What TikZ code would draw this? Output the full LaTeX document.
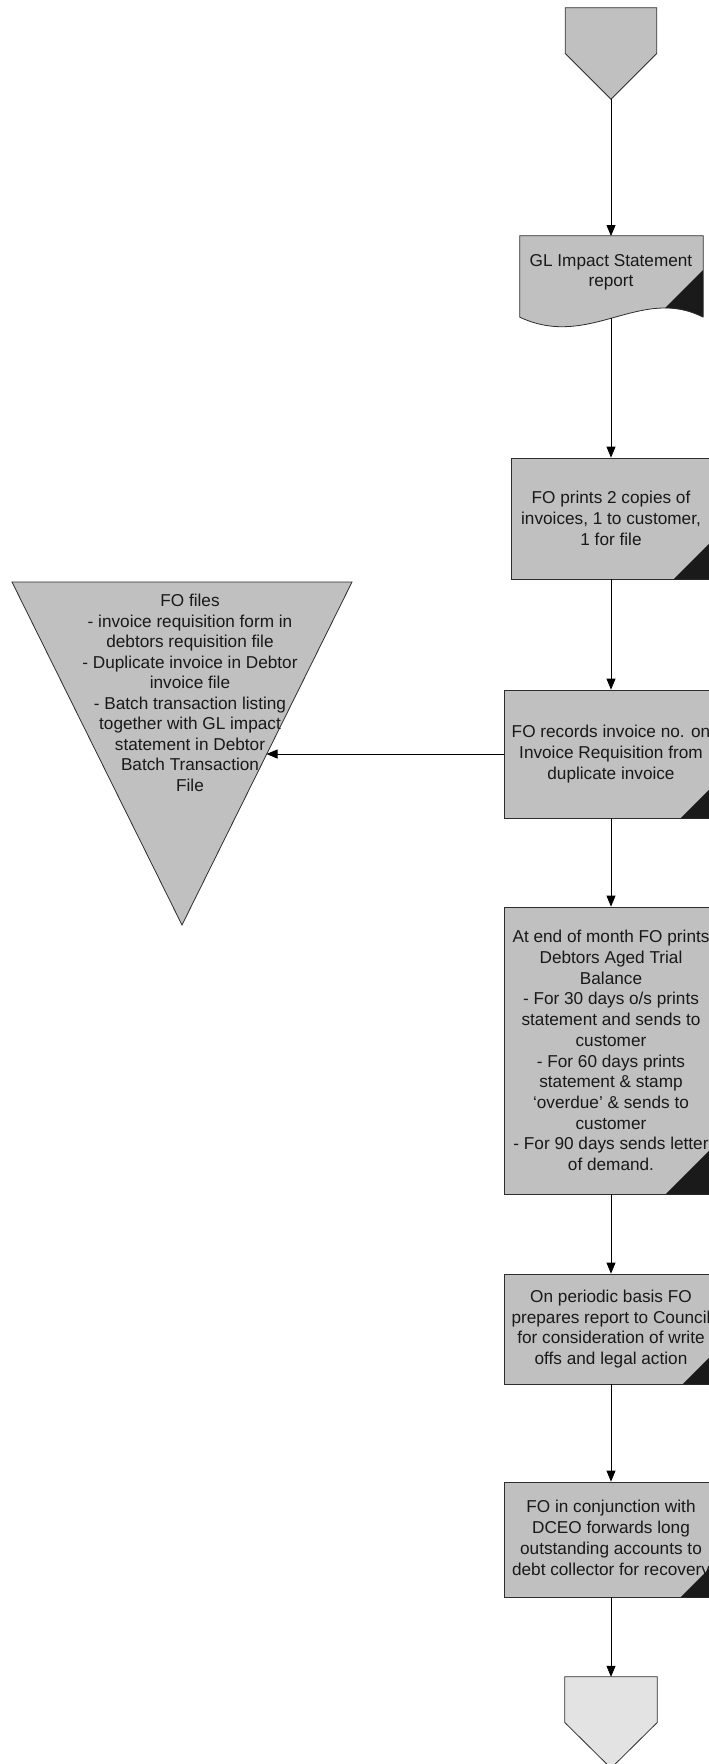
\documentclass[tikz,border=0pt]{standalone}
\usepackage{fontspec}
\setmainfont{Liberation Sans}
\usetikzlibrary{arrows.meta}
\definecolor{boxgray}{RGB}{192,192,192}
\definecolor{endgray}{RGB}{227,227,227}
\definecolor{cornerblack}{RGB}{26,26,26}
\definecolor{edgegray}{RGB}{45,45,45}
\definecolor{textc}{RGB}{25,25,25}
\tikzset{
  proc/.style={draw=edgegray, fill=boxgray, line width=0.8pt, align=center,
    inner sep=1pt, text=textc, font=\fontsize{17.2}{20.7}\selectfont},
  ghost/.style={draw=none, fill=none, inner sep=0pt},
  shapeline/.style={draw=edgegray, line width=0.8pt},
  txt/.style={align=center, inner sep=0pt, text=textc, font=\fontsize{17.2}{20.5}\selectfont},
  conn/.style={draw=black, line width=0.8pt, -{Triangle[length=11pt,width=9pt]}},
  corner/.style={fill=cornerblack}
}
\begin{document}
\begin{tikzpicture}[x=1pt,y=-1pt]
\useasboundingbox (0,0) rectangle (709,1764);
\clip (0,0) rectangle (709,1764);

% top off-page connector
\node[ghost, minimum width=91pt, minimum height=91pt] (start) at (611,53.5) {};
\filldraw[shapeline, fill=boxgray] (start.north west) -- (start.north east) -- (start.east)
  -- (start.south) -- (start.west) -- cycle;

% GL document
\node[ghost, minimum width=183pt, minimum height=81pt] (gl) at (611.5,276.5) {};
\path[fill=boxgray] (gl.south east) -- (gl.north east) -- (gl.north west) -- (gl.south west)
  .. controls (590,350) and (640,285) .. (gl.south east);
\begin{scope}
  \clip (gl.south east) -- (gl.north east) -- (gl.north west) -- (gl.south west)
  .. controls (590,350) and (640,285) .. (gl.south east);
  \fill[corner] (703,270) -- (703,345) -- (628,345) -- cycle;
\end{scope}
\draw[shapeline] (gl.south east) -- (gl.north east) -- (gl.north west) -- (gl.south west)
  .. controls (590,350) and (640,285) .. (gl.south east);
\node[txt] (gltext) at (611,272.5) {GL Impact Statement\\report};
\coordinate (gltop) at (611,236);
\coordinate (glbottom) at (611,318);

% process boxes
\node[proc, minimum width=200pt, minimum height=121pt] (prints) at (611,518.5)
  {FO prints 2 copies of\\invoices, 1 to customer,\\1 for file};
\fill[corner] (prints.south east) -- ++(-38,0) -- ++(38,-38) -- cycle;

\node[proc, minimum width=214pt, minimum height=128pt] (records) at (611,754)
  {FO records invoice no. on\\Invoice Requisition from\\duplicate invoice};
\fill[corner] (records.south east) -- ++(-38,0) -- ++(38,-38) -- cycle;

\node[proc, minimum width=214pt, minimum height=287pt] (month) at (611,1050.5)
  {At end of month FO prints\\Debtors Aged Trial\\Balance\\- For 30 days o/s prints\\statement and sends to\\customer\\- For 60 days prints\\statement \& stamp\\`overdue' \& sends to\\customer\\- For 90 days sends letter\\of demand.};
\fill[corner] (month.south east) -- ++(-53,0) -- ++(53,-53) -- cycle;

\node[proc, minimum width=214pt, minimum height=110pt] (periodic) at (611,1329)
  {On periodic basis FO\\prepares report to Council\\for consideration of write\\offs and legal action};
\fill[corner] (periodic.south east) -- ++(-36,0) -- ++(36,-36) -- cycle;

\node[proc, minimum width=214pt, minimum height=115pt] (conj) at (611,1539.5)
  {FO in conjunction with\\DCEO forwards long\\outstanding accounts to\\debt collector for recovery};
\fill[corner] (conj.south east) -- ++(-38,0) -- ++(38,-38) -- cycle;

% file triangle
\filldraw[shapeline, fill=boxgray] (12,582) -- (352,582) -- (182,925) -- cycle;
\node[txt] (files) at (190,693)
  {FO files\\- invoice requisition form in\\debtors requisition file\\- Duplicate invoice in Debtor\\invoice file\\- Batch transaction listing\\together with GL impact\\statement in Debtor\\Batch Transaction\\File};
\coordinate (fileedge) at (266.5,754);

% bottom off-page connector
\node[ghost, minimum width=92pt, minimum height=91pt] (stop) at (611,1722.5) {};
\filldraw[shapeline, fill=endgray] (stop.north west) -- (stop.north east) -- (stop.east)
  -- (stop.south) -- (stop.west) -- cycle;

% connectors
\draw[conn] (start.south) -- (gltop);
\draw[conn] (glbottom) -- (prints.north);
\draw[conn] (prints.south) -- (records.north);
\draw[conn] (records.west) -- (fileedge);
\draw[conn] (records.south) -- (month.north);
\draw[conn] (month.south) -- (periodic.north);
\draw[conn] (periodic.south) -- (conj.north);
\draw[conn] (conj.south) -- (stop.north);
\end{tikzpicture}
\end{document}
